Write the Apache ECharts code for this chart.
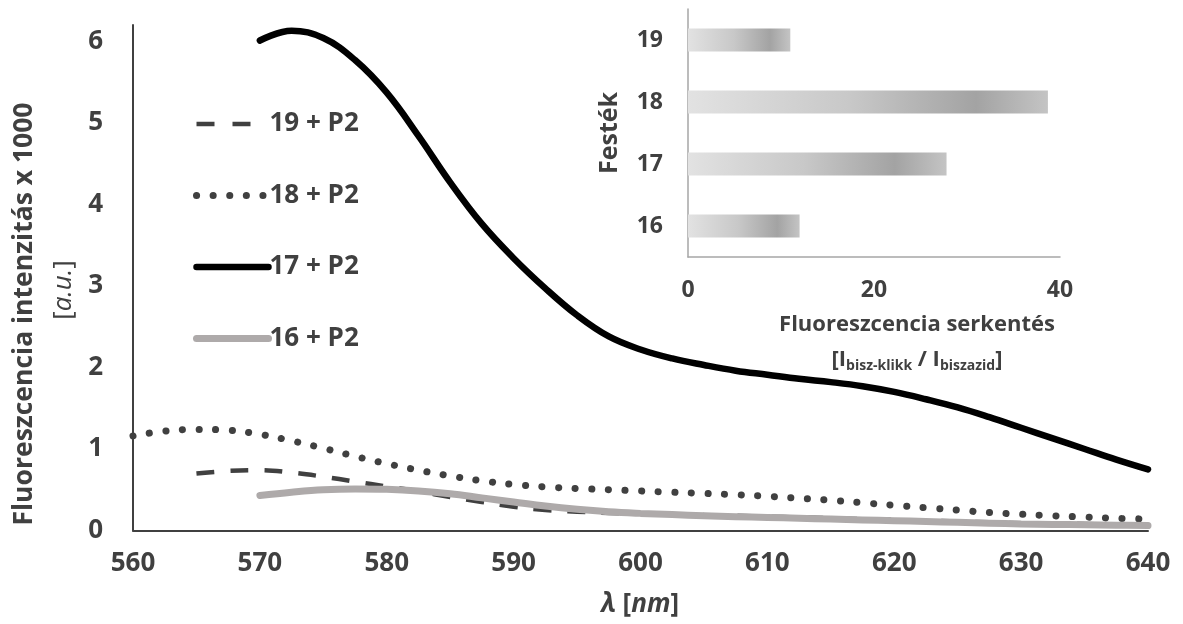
<!DOCTYPE html>
<html>
<head>
<meta charset="utf-8">
<script src="https://cdn.jsdelivr.net/npm/echarts@6/dist/echarts.min.js"></script>
<style>
html,body{margin:0;padding:0;background:#fff;}
#chart{width:1183px;height:624px;}
</style>
</head>
<body>
<div id="chart"></div>
<script>
// wavelengths (nm)
const wl = [570,572.5,575,577.5,580,582.5,585,587.5,590,592.5,595,597.5,600,602.5,605,607.5,610,612.5,615,617.5,620,622.5,625,627.5,630,632.5,635,637.5,640];
const wl18 = [560,562.5,565,567.5].concat(wl);
const wl19 = [565,567.5].concat(wl);

const s19 = [0.70,0.73,0.74,0.71,0.66,0.60,0.54,0.48,0.41,0.35,0.29,0.25,0.23,0.215,0.21,0.20,0.19,0.18,0.17,0.16,0.15,0.14,0.13,0.12,0.11,0.10,0.09,0.085,0.08,0.07,0.06];
const s18 = [1.16,1.22,1.24,1.23,1.18,1.10,1.01,0.91,0.82,0.74,0.67,0.61,0.565,0.535,0.515,0.50,0.485,0.47,0.455,0.44,0.42,0.395,0.37,0.34,0.31,0.28,0.25,0.22,0.20,0.18,0.165,0.15,0.14];
const s17 = [6.01,6.13,6.04,5.77,5.37,4.84,4.27,3.76,3.34,2.97,2.64,2.38,2.22,2.11,2.03,1.96,1.91,1.86,1.82,1.77,1.70,1.61,1.51,1.39,1.26,1.13,1.00,0.87,0.75];
const s16 = [0.43,0.47,0.50,0.51,0.505,0.485,0.45,0.40,0.35,0.30,0.26,0.23,0.21,0.195,0.18,0.17,0.16,0.15,0.14,0.13,0.12,0.11,0.10,0.09,0.08,0.075,0.07,0.065,0.06];

const seriesNames = ['19 + P2','18 + P2','17 + P2','16 + P2'];

// inset bar chart
const dyes = ['16','17','18','19'];
const enhancement = [12.0,27.8,38.7,11.0];

function pairs(xs, ys){ return xs.map((x,i)=>[x, ys[i]]); }

const FONT = "'Open Sans', 'Noto Sans', sans-serif";
const TXT = '#404040';

const barGrad = new echarts.graphic.LinearGradient(0,0,1,0,[
  {offset:0,color:'#e2e2e2'},
  {offset:0.45,color:'#c8c8c8'},
  {offset:0.8,color:'#a3a3a3'},
  {offset:1,color:'#c4c4c4'}
]);

const styles = {
  '19 + P2': {color:'#404040', width:4.5, type:[18,16], cap:'butt'},
  '18 + P2': {color:'#404040', width:7, type:[0.1,16.5], cap:'round'},
  '17 + P2': {color:'#000000', width:6.5, type:'solid', cap:'round'},
  '16 + P2': {color:'#aeaaaa', width:7, type:'solid', cap:'round'}
};
const legendStyles = Object.assign({}, styles, {
  '19 + P2': {color:'#404040', width:4.5, type:[18,18], cap:'butt'}
});

const chart = echarts.init(document.getElementById('chart'), null, {renderer:'canvas'});
chart.setOption({
  animation:false,
  backgroundColor:'#ffffff',
  textStyle:{fontFamily:FONT},
  grid:[
    {left:133, right:35, top:25, bottom:93.5},
    {left:688, width:372, top:9, height:248}
  ],
  xAxis:[
    {gridIndex:0, type:'value', min:560, max:640, interval:10,
     axisLine:{lineStyle:{color:TXT,width:2}}, axisTick:{show:false}, splitLine:{show:false},
     axisLabel:{color:TXT,fontWeight:'bold',fontSize:26,fontFamily:FONT,margin:20}},
    {gridIndex:1, type:'value', min:0, max:40, interval:20,
     axisLine:{show:true,lineStyle:{color:'#a6a6a6',width:1.5}}, axisTick:{show:false}, splitLine:{show:false},
     axisLabel:{color:TXT,fontWeight:'bold',fontSize:23,fontFamily:FONT,margin:22}}
  ],
  yAxis:[
    {gridIndex:0, type:'value', min:0, max:6.2, interval:1,
     axisLine:{show:true,lineStyle:{color:TXT,width:2}}, axisTick:{show:false}, splitLine:{show:false},
     axisLabel:{color:TXT,fontWeight:'bold',fontSize:26,fontFamily:FONT,margin:30,
       formatter:function(v){ return Number.isInteger(v) ? String(v) : ''; }}},
    {gridIndex:1, type:'category', data:dyes,
     axisLine:{show:true,lineStyle:{color:'#a6a6a6',width:1.5}}, axisTick:{show:false}, splitLine:{show:false},
     axisLabel:{color:TXT,fontWeight:'bold',fontSize:23,fontFamily:FONT,margin:25},
     name:'Festék', nameLocation:'middle', nameGap:66, nameRotate:90,
     nameTextStyle:{color:TXT,fontWeight:'bold',fontSize:25,fontFamily:FONT}}
  ],
  legend:{
    orient:'vertical', left:188, top:106, itemWidth:72, itemHeight:16, itemGap:45.5,
    data:seriesNames.map(n=>({name:n, itemStyle:{opacity:0}, lineStyle:legendStyles[n]})),
    textStyle:{color:TXT,fontWeight:'bold',fontSize:26,fontFamily:FONT,padding:[0,0,0,-4]},
    selectedMode:false
  },
  series:seriesNames.map((n,i)=>({
    name:n, type:'line', xAxisIndex:0, yAxisIndex:0,
    data:[pairs(wl19,s19),pairs(wl18,s18),pairs(wl,s17),pairs(wl,s16)][i],
    smooth:0.4, showSymbol:false, symbol:'none',
    itemStyle:{color:styles[n].color},
    lineStyle:styles[n]
  })).concat([
    {name:'serkentés', type:'bar', xAxisIndex:1, yAxisIndex:1, data:enhancement,
     barWidth:23, itemStyle:{color:barGrad}}
  ]),
  graphic:[
    {type:'text', x:24, y:314, rotation:Math.PI/2,
     style:{text:'Fluoreszcencia intenzitás x 1000', fill:TXT, font:'bold 26.5px '+FONT, align:'center', verticalAlign:'middle'}},
    {type:'text', x:64, y:290, rotation:Math.PI/2,
     style:{text:'[{i|a.u.}]', fill:TXT, font:'normal 26px '+FONT, align:'center', verticalAlign:'middle',
       rich:{i:{fontStyle:'italic',fontWeight:'normal',fontSize:26,fontFamily:FONT,fill:TXT}}}},
    {type:'text', x:640, y:605,
     style:{text:'{i|λ} [{i|nm}]', fill:TXT, font:'bold 26px '+FONT, align:'center', verticalAlign:'middle',
       rich:{i:{fontStyle:'italic',fontWeight:'bold',fontSize:26,fontFamily:FONT,fill:TXT}}}},
    {type:'text', x:917, y:325,
     style:{text:'Fluoreszcencia serkentés', fill:TXT, font:'bold 22px '+FONT, align:'center', verticalAlign:'middle'}},
    {type:'text', x:917, y:360,
     style:{text:'[I{s|bisz-klikk} / I{s|biszazid}]', fill:TXT, font:'bold 22px '+FONT, align:'center', verticalAlign:'middle',
       rich:{s:{fontSize:14,fontWeight:'bold',fontFamily:FONT,fill:TXT,padding:[12,0,0,0]}}}}
  ]
});
</script>
</body>
</html>
